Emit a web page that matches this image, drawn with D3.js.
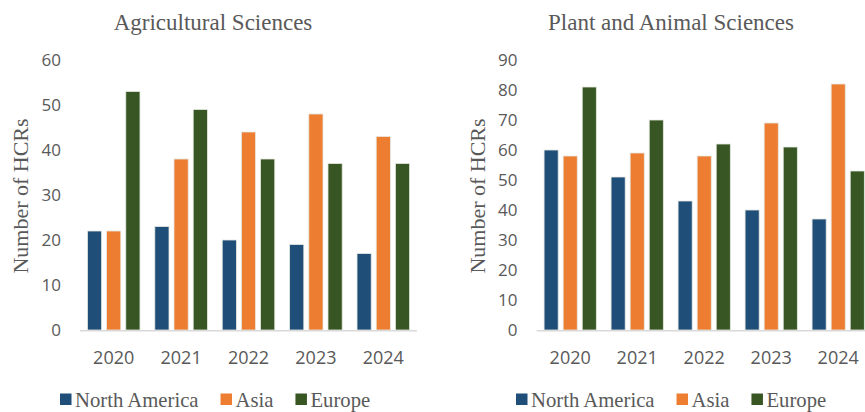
<!DOCTYPE html>
<html><head><meta charset="utf-8">
<script src="https://cdn.jsdelivr.net/npm/d3@7"></script>
<style>
html,body{margin:0;padding:0;background:#fff;}svg{display:block;}
.serif{font-family:"Liberation Serif","DejaVu Serif",serif;}
.sans{font-family:"Open Sans",sans-serif;}
</style>
</head><body>
<svg id="c" width="865" height="412"></svg>
<script>
const years = ["2020","2021","2022","2023","2024"];
const series = ["North America","Asia","Europe"];
const colors = ["#1F4E79","#ED7D31","#375623"];
const agriTitle = "Agricultural Sciences";
const agriNA = [22,23,20,19,17];
const agriAsia = [22,38,44,48,43];
const agriEurope = [53,49,38,37,37];
const agriTicks = [0,10,20,30,40,50,60];
const plantTitle = "Plant and Animal Sciences";
const plantNA = [60,51,43,40,37];
const plantAsia = [58,59,58,69,82];
const plantEurope = [81,70,62,61,53];
const plantTicks = [0,10,20,30,40,50,60,70,80,90];
const yTitle = "Number of HCRs";

const svg = d3.select("#c");
const grey = "#595959";

function panel(cfg){
  const g = svg.append("g");
  const x0 = d3.scaleBand().domain(years).range([cfg.x0, cfg.x1]).paddingInner(0.22).paddingOuter(0.11);
  const x1 = d3.scaleBand().domain(series).range([0, x0.bandwidth()]).paddingInner(0.26);
  const y = d3.scaleLinear().domain([0, d3.max(cfg.ticks)]).range([330, 60]);
  const vals = [cfg.na, cfg.asia, cfg.eu];
  series.forEach((s, si) => {
    g.selectAll(null).data(years).enter().append("rect")
      .attr("x", (d) => x0(d) + x1(s))
      .attr("width", x1.bandwidth())
      .attr("y", (d, i) => y(vals[si][i]))
      .attr("height", (d, i) => y(0) - y(vals[si][i]))
      .attr("fill", colors[si])
      .attr("stroke", "#e6e9e2").attr("stroke-width", 0.8);
  });
  g.append("line").attr("x1", cfg.x0).attr("x2", Math.min(cfg.x1, 865)).attr("y1", y(0)+0.8).attr("y2", y(0)+0.8)
    .attr("stroke", "#d9d9d9").attr("stroke-width", 1.6);
  const ya = d3.axisLeft(y).tickValues(cfg.ticks).tickSize(0).tickPadding(0);
  const yg = g.append("g").attr("transform", `translate(${cfg.tickRight},0)`).call(ya);
  yg.attr("font-family", null).attr("font-size", null);
  yg.select(".domain").remove();
  yg.selectAll("text").attr("class", "sans").style("font-size", "17px").attr("fill", grey);
  const xa = d3.axisBottom(x0).tickSize(0).tickPadding(0);
  const xg = g.append("g").attr("transform", `translate(0,350)`).call(xa);
  xg.attr("font-family", null).attr("font-size", null);
  xg.select(".domain").remove();
  xg.selectAll("text").attr("class", "sans").style("font-size", "18px").attr("fill", grey).attr("dy", "0.75em");
  g.append("text").attr("class", "serif").attr("transform", `translate(${cfg.yTitleX},196) rotate(-90)`)
    .attr("text-anchor", "middle").style("font-size", "22px")
    .attr("fill", grey).text(yTitle);
  g.append("text").attr("class", "serif").attr("x", cfg.titleX).attr("y", 30).attr("text-anchor", "middle")
    .style("font-size", "23px").attr("fill", grey).text(cfg.title);
  let lx = cfg.legendX;
  series.forEach((s, si) => {
    g.append("rect").attr("x", lx).attr("y", 393.5).attr("width", 11.5).attr("height", 11.5).attr("fill", colors[si]);
    const t = g.append("text").attr("class", "serif").attr("x", lx + 15).attr("y", 406.5)
      .style("font-size", "20.7px").attr("fill", grey).text(s);
    lx += 15 + t.node().getComputedTextLength() + 22;
  });
}

panel({x0: 80, x1: 417, ticks: agriTicks, na: agriNA, asia: agriAsia, eu: agriEurope,
  tickRight: 61, yTitleX: 28, titleX: 213, title: agriTitle, legendX: 60});
panel({x0: 536.7, x1: 871.7, ticks: plantTicks, na: plantNA, asia: plantAsia, eu: plantEurope,
  tickRight: 517.5, yTitleX: 485, titleX: 671, title: plantTitle, legendX: 516});
</script>
</body></html>
